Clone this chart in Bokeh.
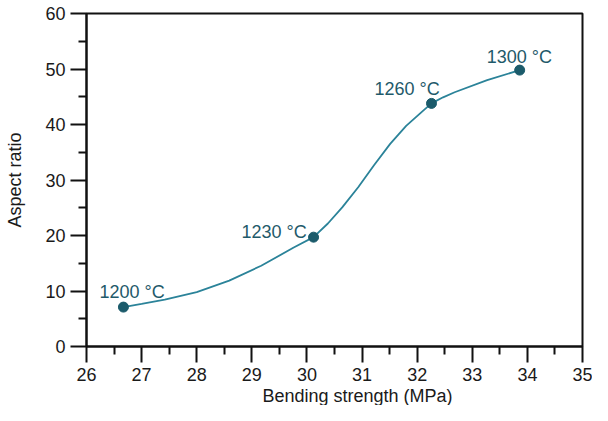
from bokeh.plotting import figure
from bokeh.models import FixedTicker, Title, ColumnDataSource
from bokeh.core.properties import value
from bokeh.embed import file_html
from bokeh.resources import INLINE

# measured points
strength = [26.67, 30.12, 32.26, 33.86]
aspect = [7.1, 19.7, 43.8, 49.8]
temps = ["1200 °C", "1230 °C", "1260 °C", "1300 °C"]

# smooth curve (between the points)
curve_x = [27.00, 27.42, 28.00, 28.59, 29.17, 29.76, 30.38, 30.64, 30.93, 31.22,
           31.51, 31.80, 32.10, 32.47, 32.68, 33.27]
curve_y = [7.66, 8.43, 9.80, 11.87, 14.55, 17.83, 22.16, 25.06, 28.70, 32.71,
           36.51, 39.75, 42.42, 44.9, 45.81, 48.0]

x_ticks = [26, 27, 28, 29, 30, 31, 32, 33, 34, 35]
y_ticks = [0, 10, 20, 30, 40, 50, 60]

FONT = "Liberation Sans"
LINE_C = "#2b8399"
DOT_C = "#1b5b6b"
TXT_C = "#1f5a6a"

pts = sorted(zip(strength + curve_x, aspect + curve_y))
line_x = [a for a, b in pts]
line_y = [b for a, b in pts]

p = figure(width=592, height=405, output_backend="svg", toolbar_location=None,
           x_range=(26, 35), y_range=(0, 60),
           min_border_left=86, min_border_right=10, min_border_top=13, min_border_bottom=57)

p.xgrid.visible = False
p.ygrid.visible = False
p.outline_line_color = "#111111"
p.outline_line_width = 2
p.background_fill_color = "white"
p.border_fill_color = "white"

p.xaxis.ticker = FixedTicker(ticks=x_ticks, minor_ticks=[t + 0.5 for t in x_ticks[:-1]])
p.yaxis.ticker = FixedTicker(ticks=y_ticks, minor_ticks=[t + 5 for t in y_ticks[:-1]])
for ax in (p.xaxis[0], p.yaxis[0]):
    ax.axis_line_color = "#111111"
    ax.axis_line_width = 2
    ax.major_tick_line_color = "#111111"
    ax.minor_tick_line_color = "#111111"
    ax.major_tick_line_width = 2
    ax.minor_tick_line_width = 2
    ax.major_tick_out = 16
    ax.major_tick_in = 0
    ax.minor_tick_out = 8
    ax.minor_tick_in = 0
    ax.major_label_text_font = FONT
    ax.major_label_text_font_size = "18px"
    ax.major_label_text_color = "#1a1a1a"
    ax.major_label_standoff = 5
    ax.axis_label_text_font = FONT
    ax.axis_label_text_font_size = "18px"
    ax.axis_label_text_font_style = "normal"
    ax.axis_label_text_color = "#1a1a1a"

p.yaxis.axis_label = "Aspect ratio"
p.yaxis.axis_label_standoff = 17

p.line(line_x, line_y, line_color=LINE_C, line_width=1.8)
src = ColumnDataSource(dict(x=strength, y=aspect, t=temps,
                            dx=[-24, -72, -57, -33], dy=[-15, -5, -14, -13]))
p.scatter("x", "y", source=src, size=10, fill_color=DOT_C, line_color=DOT_C)
p.text("x", "y", text="t", source=src, x_offset="dx", y_offset="dy",
       text_align="left", text_baseline="alphabetic",
       text_font=value(FONT), text_font_size="18px", text_color=TXT_C)

xt = Title(text="Bending strength (MPa)", align="left", offset=176, standoff=0,
           text_font=FONT, text_font_size="18px", text_font_style="normal",
           text_color="#1a1a1a")
p.add_layout(xt, "below")

open("out.html", "w").write(file_html(p, INLINE))
